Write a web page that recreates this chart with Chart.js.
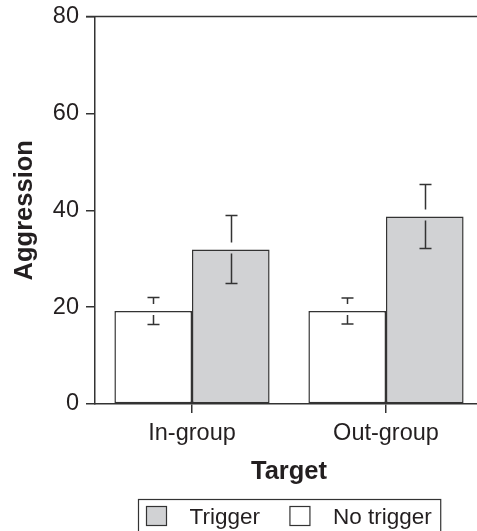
<!DOCTYPE html>
<html>
<head>
<meta charset="utf-8">
<script src="https://cdn.jsdelivr.net/npm/chart.js@4/dist/chart.umd.min.js"></script>
<style>
  html, body { margin: 0; padding: 0; background: #fff; overflow: hidden; }
  #wrap { width: 477px; height: 531px; overflow: hidden; }
</style>
</head>
<body>
<div id="wrap"><canvas id="aggChart" width="490" height="531"></canvas></div>
<script>
const categories = ["In-group", "Out-group"];
const seriesNames = ["No trigger", "Trigger"];
const noTrigger = [19.2, 19.2];
const noTriggerErr = [2.8, 2.7];
const trigger = [31.9, 38.7];
const triggerErr = [7.0, 6.6];
const yTicks = [0, 20, 40, 60, 80];

const INK = "#333333";
const TEXT = "#231f20";
const FONT = "'Liberation Sans', Arial, sans-serif";

// error bars: vertical line broken around the bar top, with caps
const errorBars = {
  id: "errorBars",
  afterDatasetsDraw(chart) {
    const ctx = chart.ctx;
    const y = chart.scales.y;
    ctx.save();
    ctx.strokeStyle = INK;
    ctx.lineWidth = 1.5;
    chart.data.datasets.forEach((ds, i) => {
      chart.getDatasetMeta(i).data.forEach((bar, j) => {
        const v = ds.data[j], e = ds.errors[j];
        const top = y.getPixelForValue(v + e);
        const bot = y.getPixelForValue(v - e);
        const mid = y.getPixelForValue(v);
        const x = Math.round(bar.x) + 0.5;
        ctx.beginPath();
        ctx.moveTo(x, top); ctx.lineTo(x, mid - 7);
        ctx.moveTo(x, mid + 4); ctx.lineTo(x, bot);
        ctx.moveTo(x - 6, top); ctx.lineTo(x + 6, top);
        ctx.moveTo(x - 6, bot); ctx.lineTo(x + 6, bot);
        ctx.stroke();
      });
    });
    ctx.restore();
  }
};

// top frame line + boxed legend under the axis title
const frameAndLegend = {
  id: "frameAndLegend",
  afterDraw(chart) {
    const ctx = chart.ctx;
    const a = chart.chartArea;
    ctx.save();
    ctx.strokeStyle = INK;
    ctx.lineWidth = 1.5;
    ctx.beginPath();
    ctx.moveTo(a.left - 9, a.top);
    ctx.lineTo(chart.width, a.top);
    ctx.stroke();

    // legend: Trigger first, then No trigger
    ctx.font = "22.5px " + FONT;
    const items = chart.data.datasets.slice().reverse();
    const sw = 20, gapText = 23, gapItem = 30, padL = 8, padR = 9;
    let total = padL + padR;
    items.forEach((ds, k) => {
      total += sw + gapText + ctx.measureText(ds.label).width;
      if (k < items.length - 1) total += gapItem;
    });
    const cx = (a.left + a.right) / 2;
    const left = Math.round(cx - total / 2) + 0.5;
    const topY = 499.5;
    ctx.lineWidth = 1.2;
    ctx.strokeRect(left, topY, total, 40);
    let x = left + padL;
    items.forEach((ds) => {
      ctx.fillStyle = ds.backgroundColor;
      ctx.fillRect(x, 506.5, sw, 19);
      ctx.strokeStyle = INK;
      ctx.strokeRect(x, 506.5, sw, 19);
      x += sw + gapText;
      ctx.fillStyle = TEXT;
      ctx.textBaseline = "alphabetic";
      ctx.fillText(ds.label, x, 524);
      x += ctx.measureText(ds.label).width + gapItem;
    });
    ctx.restore();
  }
};

new Chart(document.getElementById("aggChart"), {
  type: "bar",
  data: {
    labels: categories,
    datasets: [
      {
        label: seriesNames[0],
        data: noTrigger,
        errors: noTriggerErr,
        backgroundColor: "#ffffff",
        borderColor: INK,
        borderWidth: 1.5,
        borderSkipped: false
      },
      {
        label: seriesNames[1],
        data: trigger,
        errors: triggerErr,
        backgroundColor: "#d1d2d4",
        borderColor: INK,
        borderWidth: 1.5,
        borderSkipped: false
      }
    ]
  },
  options: {
    responsive: false,
    animation: false,
    devicePixelRatio: 1,
    layout: { padding: { top: 16.5, right: 7, bottom: 35, left: 0 } },
    datasets: { bar: { categoryPercentage: 0.8, barPercentage: 1.0 } },
    plugins: {
      legend: { display: false },
      tooltip: { enabled: false }
    },
    scales: {
      x: {
        grid: { offset: false, drawOnChartArea: false, drawTicks: true, tickLength: 9, color: INK, lineWidth: 1.5 },
        border: { display: true, color: INK, width: 1.5 },
        ticks: { color: TEXT, font: { family: FONT, size: 23.5 }, padding: 6 },
        title: { display: true, text: "Target", color: TEXT, font: { family: FONT, size: 25.5, weight: "bold" }, padding: { top: 0, bottom: 9 } },
        afterFit(scale) { scale.height = 92; }
      },
      y: {
        min: 0,
        max: 80,
        afterBuildTicks(scale) { scale.ticks = yTicks.map(v => ({ value: v })); },
        grid: { drawOnChartArea: false, drawTicks: true, tickLength: 9, color: INK, lineWidth: 1.5 },
        border: { display: true, color: INK, width: 1.5 },
        ticks: { color: TEXT, font: { family: FONT, size: 23.5 }, padding: 7 },
        title: { display: true, text: "Aggression", color: TEXT, font: { family: FONT, size: 25.5, weight: "bold" }, padding: { top: 10, bottom: 0 } },
        afterFit(scale) { scale.width = 95; scale.paddingTop = 0; scale.paddingBottom = 0; }
      }
    }
  },
  plugins: [errorBars, frameAndLegend]
});
</script>
</body>
</html>
